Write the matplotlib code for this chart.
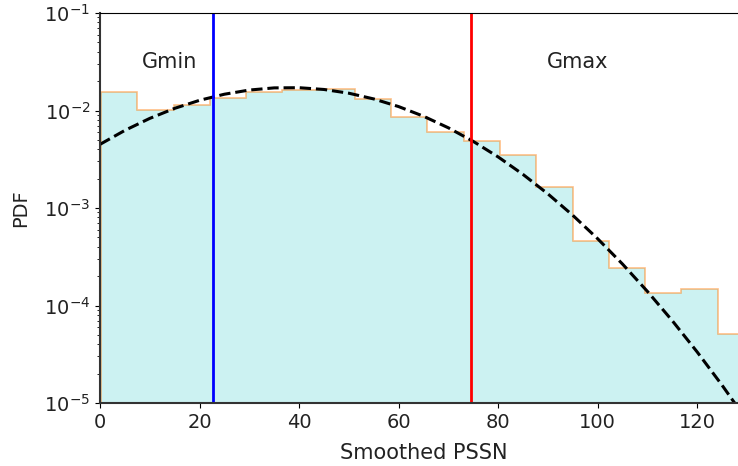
import numpy as np
import matplotlib
matplotlib.use("Agg")
import matplotlib.pyplot as plt

# histogram (density)
bin_edges = np.linspace(0.2, 131.4, 19)
pdf_values = [0.01535, 0.0102, 0.0114, 0.01334, 0.01556, 0.01633, 0.0166, 0.0130,
              0.00848, 0.00601, 0.00491, 0.00348, 0.00166, 4.64e-4, 2.44e-4,
              1.34e-4, 1.49e-4, 5.13e-5]

# fitted curve, points
curve_x = [0, 5, 10, 15, 20, 25, 30, 35, 40, 45, 50, 55, 60, 65,
           70, 75, 80, 85, 90, 95, 100, 105, 110, 115, 120, 125, 130]
curve_y = [4.496e-3, 6.253e-3, 8.30e-3, 1.052e-2, 1.272e-2, 1.469e-2, 1.621e-2,
           1.706e-2, 1.713e-2, 1.643e-2, 1.504e-2, 1.314e-2, 1.097e-2, 8.735e-3,
           6.643e-3, 4.82e-3, 3.34e-3, 2.209e-3, 1.395e-3, 8.41e-4, 4.836e-4,
           2.657e-4, 1.393e-4, 6.97e-5, 3.332e-5, 1.52e-5, 6.62e-6]

gmin = 22.8
gmax = 74.5

fig = plt.figure(figsize=(7.38, 4.66), dpi=100)
ax = fig.add_axes([100 / 738, 63 / 466, 647 / 738, 390 / 466])

centers = (bin_edges[:-1] + bin_edges[1:]) / 2
ax.hist(centers, bins=bin_edges, weights=pdf_values, histtype='stepfilled',
        color='c', alpha=0.2)
ax.hist(centers, bins=bin_edges, weights=pdf_values, histtype='step',
        color='C1', alpha=0.5, linewidth=1.2)
ax.plot(curve_x, curve_y, 'k--', linewidth=2.2)

ax.axvline(gmin, color='b', linewidth=2)
ax.axvline(gmax, color='r', linewidth=2)

ax.set_yscale('log')
ax.set_ylim(1e-5, 1e-1)
ax.set_xlim(0, 130)
ax.set_xticks([0, 20, 40, 60, 80, 100, 120])

ax.text(14, 10 ** -1.5, 'Gmin', fontsize=15, ha='center', va='center', color='#222222')
ax.text(96, 10 ** -1.5, 'Gmax', fontsize=15, ha='center', va='center', color='#222222')

ax.set_xlabel('Smoothed PSSN', fontsize=15, labelpad=8, color='#222222')
ax.set_ylabel('PDF', fontsize=14, labelpad=10, color='#222222')
ax.tick_params(labelsize=14, labelcolor='#222222')
for s in ['left', 'bottom']:
    ax.spines[s].set_linewidth(1.5)
    ax.spines[s].set_color('#333333')

fig.savefig('out.png', dpi=100)
